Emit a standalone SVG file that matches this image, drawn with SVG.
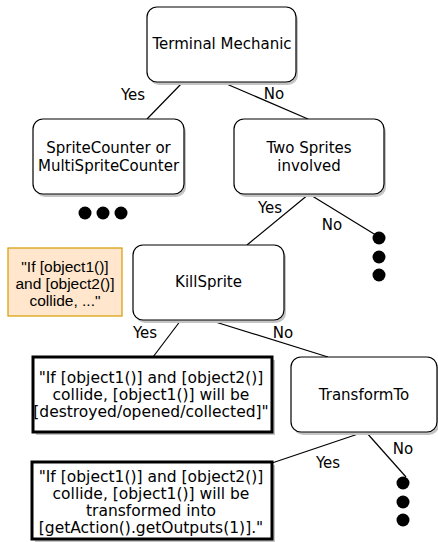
<svg xmlns="http://www.w3.org/2000/svg" width="438" height="542" viewBox="0 0 438 542">
<style>
.node{fill:#fff;stroke:#000;stroke-width:1.2}
.bold{fill:#fff;stroke:#000;stroke-width:3}
.shadow{fill:#c4c4c4}
.t{font-family:"DejaVu Sans",Verdana,sans-serif;font-size:15px;fill:#000;text-anchor:middle;dominant-baseline:central}
.b{font-size:15.5px}
.n{font-family:"Liberation Sans",Arial,sans-serif;font-size:15.5px;fill:#000;text-anchor:middle;dominant-baseline:central}
.edge{stroke:#000;stroke-width:1.2;fill:none}
.dot{fill:#000}
</style>
<rect width="438" height="542" fill="#fff"/>
<g id="connectors">
<line class="edge" x1="183" y1="82" x2="147" y2="119"/>
<line class="edge" x1="222" y1="82" x2="308" y2="119"/>
<line class="edge" x1="309" y1="194" x2="247" y2="245"/>
<line class="edge" x1="309" y1="194" x2="379" y2="237"/>
<line class="edge" x1="181" y1="320" x2="153" y2="357"/>
<line class="edge" x1="209" y1="320" x2="328" y2="357"/>
<line class="edge" x1="364" y1="432" x2="272" y2="463"/>
<line class="edge" x1="366" y1="432" x2="406" y2="477"/>
<text class="t" x="133" y="95">Yes</text>
<text class="t" x="274" y="94">No</text>
<text class="t" x="270" y="208">Yes</text>
<text class="t" x="332" y="225">No</text>
<text class="t" x="145" y="333">Yes</text>
<text class="t" x="283" y="333">No</text>
<text class="t" x="328" y="463">Yes</text>
<text class="t" x="403" y="449">No</text>
</g>
<g id="terminal">
<rect class="shadow" x="149" y="10" width="149" height="75" rx="10"/>
<rect class="node" x="147" y="7" width="149" height="75" rx="10"/>
<text class="t" x="222" y="44">Terminal Mechanic</text>
</g>
<g id="spritecounter">
<rect class="shadow" x="35" y="122" width="151" height="75" rx="10"/>
<rect class="node" x="33" y="119" width="151" height="75" rx="10"/>
<text class="t" x="108.5" y="148">SpriteCounter or</text>
<text class="t" x="108.5" y="166">MultiSpriteCounter</text>
</g>
<g id="dots1">
<circle class="dot" cx="85" cy="213" r="6.5"/>
<circle class="dot" cx="103" cy="213" r="6.5"/>
<circle class="dot" cx="121" cy="213" r="6.5"/>
</g>
<g id="twosprites">
<rect class="shadow" x="236" y="122" width="150" height="75" rx="10"/>
<rect class="node" x="234" y="119" width="150" height="75" rx="10"/>
<text class="t" x="309" y="148">Two Sprites</text>
<text class="t" x="309" y="166">involved</text>
</g>
<g id="dots2">
<circle class="dot" cx="379" cy="238" r="6.5"/>
<circle class="dot" cx="379" cy="257" r="6.5"/>
<circle class="dot" cx="379" cy="275" r="6.5"/>
</g>
<g id="note">
<rect x="8" y="248" width="114" height="68" fill="#ffe6cc" stroke="#d79b00" stroke-width="1.2"/>
<text class="n" x="65" y="266">"If [object1()]</text>
<text class="n" x="65" y="283">and [object2()]</text>
<text class="n" x="65" y="300">collide, ..."</text>
</g>
<g id="killsprite">
<rect class="shadow" x="135" y="248" width="151" height="75" rx="10"/>
<rect class="node" x="133" y="245" width="151" height="75" rx="10"/>
<text class="t" x="208.5" y="282">KillSprite</text>
</g>
<g id="result1">
<rect class="shadow" x="36" y="360" width="239" height="75"/>
<rect class="bold" x="33" y="357" width="239" height="75"/>
<text class="t b" x="151" y="378">"If [object1()] and [object2()]</text>
<text class="t b" x="151" y="395">collide, [object1()] will be</text>
<text class="t b" x="151" y="412">[destroyed/opened/collected]"</text>
</g>
<g id="transformto">
<rect class="shadow" x="293" y="360" width="146" height="75" rx="10"/>
<rect class="node" x="291" y="357" width="146" height="75" rx="10"/>
<text class="t" x="364" y="395">TransformTo</text>
</g>
<g id="result2">
<rect class="shadow" x="35" y="465" width="240" height="77"/>
<rect class="bold" x="32" y="462" width="240" height="77"/>
<text class="t b" x="151" y="477">"If [object1()] and [object2()]</text>
<text class="t b" x="151" y="494">collide, [object1()] will be</text>
<text class="t b" x="151" y="511">transformed into</text>
<text class="t b" x="151" y="528">[getAction().getOutputs(1)]."</text>
</g>
<g id="dots3">
<circle class="dot" cx="403" cy="483" r="6.5"/>
<circle class="dot" cx="403" cy="502" r="6.5"/>
<circle class="dot" cx="403" cy="520" r="6.5"/>
</g>
</svg>
